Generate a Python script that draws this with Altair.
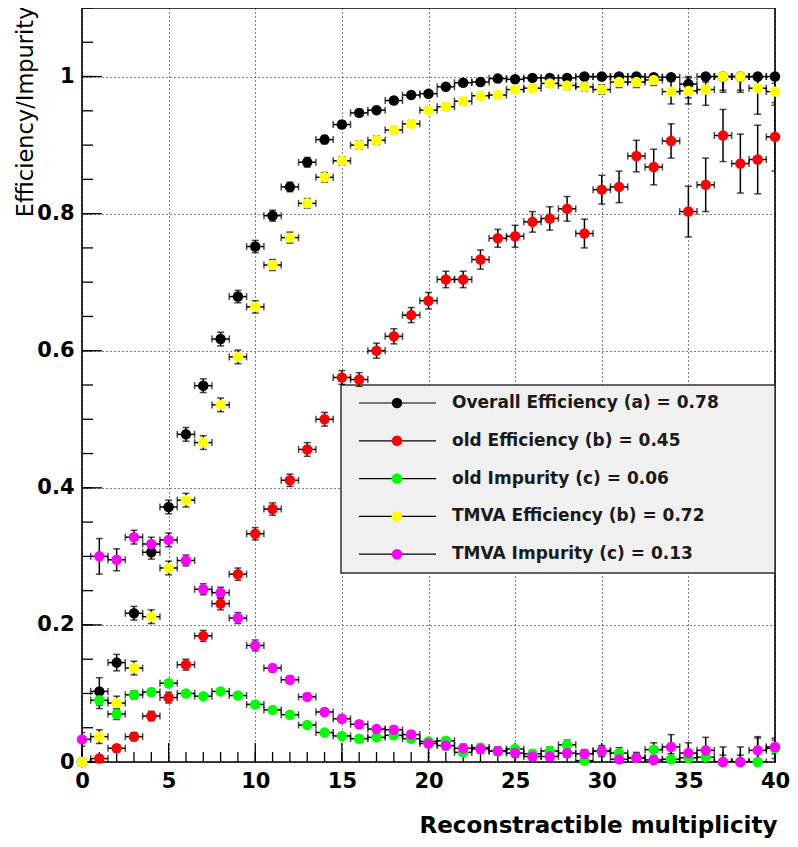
import altair as alt
import pandas as pd

# ---------------- data ----------------
x_vals = list(range(41))

series_names = [
    "Overall Efficiency (a) = 0.78",
    "old Efficiency (b) = 0.45",
    "old Impurity (c) = 0.06",
    "TMVA Efficiency (b) = 0.72",
    "TMVA Impurity (c) = 0.13",
]
series_colors = ["#000000", "#ff0000", "#00ff00", "#ffff00", "#ff00ff"]

overall_eff = [0, 0.103, 0.145, 0.217, 0.306, 0.372, 0.478, 0.549, 0.617, 0.679,
               0.752, 0.797, 0.839, 0.875, 0.908, 0.930, 0.947, 0.951, 0.965, 0.973,
               0.975, 0.985, 0.991, 0.992, 0.997, 0.996, 0.998, 0.998, 0.998, 1.0,
               1.0, 1.0, 1.0, 0.999, 0.999, 0.989, 1.0, 1.0, 1.0, 1.0, 1.0]
overall_err = [0, 0.02, 0.012, 0.01, 0.01, 0.01, 0.01, 0.01, 0.01, 0.009,
               0.009, 0.008, 0.007, 0.007, 0.006, 0.005, 0.005, 0.005, 0.004, 0.004,
               0.004, 0.004, 0.004, 0.003, 0.003, 0.003, 0.003, 0.003, 0.003, 0.003,
               0.003, 0.004, 0.004, 0.005, 0.006, 0.02, 0.008, 0.02, 0.02, 0.02, 0.01]

old_eff = [0, 0.005, 0.020, 0.037, 0.067, 0.094, 0.142, 0.184, 0.231, 0.274,
           0.333, 0.369, 0.411, 0.456, 0.500, 0.561, 0.558, 0.600, 0.621, 0.652,
           0.673, 0.704, 0.704, 0.733, 0.764, 0.767, 0.788, 0.793, 0.807, 0.771,
           0.835, 0.839, 0.884, 0.868, 0.906, 0.803, 0.842, 0.914, 0.873, 0.879, 0.912]
old_eff_err = [0, 0.003, 0.005, 0.006, 0.007, 0.008, 0.008, 0.008, 0.009, 0.009,
               0.009, 0.009, 0.009, 0.01, 0.01, 0.01, 0.01, 0.011, 0.011, 0.011,
               0.012, 0.012, 0.012, 0.014, 0.013, 0.016, 0.015, 0.017, 0.018, 0.021,
               0.021, 0.023, 0.023, 0.026, 0.025, 0.037, 0.039, 0.038, 0.043, 0.05, 0.05]

old_imp = [0, 0.090, 0.070, 0.098, 0.102, 0.115, 0.100, 0.096, 0.103, 0.097,
           0.084, 0.076, 0.069, 0.054, 0.043, 0.038, 0.034, 0.036, 0.039, 0.034,
           0.030, 0.031, 0.014, 0.021, 0.016, 0.019, 0.012, 0.016, 0.025, 0.002,
           0.016, 0.013, 0.006, 0.018, 0.004, 0.006, 0.007, 0.0, 0.0, 0.0, 0.02]
old_imp_err = [0, 0.012, 0.008, 0.006, 0.005, 0.005, 0.004, 0.004, 0.004, 0.004,
               0.004, 0.004, 0.004, 0.004, 0.004, 0.004, 0.004, 0.004, 0.004, 0.004,
               0.004, 0.004, 0.004, 0.005, 0.005, 0.005, 0.005, 0.006, 0.007, 0.006,
               0.008, 0.008, 0.008, 0.01, 0.008, 0.01, 0.01, 0.01, 0.01, 0.035, 0.015]

tmva_eff = [0, 0.037, 0.086, 0.137, 0.212, 0.283, 0.382, 0.466, 0.521, 0.591,
            0.664, 0.725, 0.765, 0.815, 0.853, 0.877, 0.900, 0.907, 0.922, 0.931,
            0.951, 0.956, 0.964, 0.972, 0.973, 0.981, 0.983, 0.990, 0.987, 0.985,
            0.981, 0.992, 0.992, 0.995, 0.978, 0.979, 0.981, 1.0, 1.0, 0.983, 0.978]
tmva_eff_err = [0, 0.01, 0.01, 0.01, 0.01, 0.01, 0.01, 0.01, 0.01, 0.01,
                0.009, 0.008, 0.008, 0.007, 0.007, 0.006, 0.006, 0.006, 0.005, 0.005,
                0.005, 0.005, 0.005, 0.004, 0.004, 0.004, 0.005, 0.005, 0.006, 0.006,
                0.007, 0.008, 0.008, 0.008, 0.018, 0.019, 0.023, 0.023, 0.023, 0.038, 0.02]

tmva_imp = [0.033, 0.300, 0.295, 0.328, 0.318, 0.324, 0.294, 0.252, 0.247, 0.210,
            0.170, 0.137, 0.120, 0.095, 0.073, 0.063, 0.055, 0.048, 0.047, 0.040,
            0.027, 0.024, 0.020, 0.019, 0.016, 0.013, 0.008, 0.008, 0.013, 0.012,
            0.016, 0.004, 0.006, 0.003, 0.022, 0.013, 0.017, 0.0, 0.0, 0.017, 0.022]
tmva_imp_err = [0.01, 0.026, 0.016, 0.01, 0.01, 0.01, 0.008, 0.008, 0.008, 0.008,
                0.008, 0.005, 0.005, 0.005, 0.005, 0.005, 0.005, 0.005, 0.005, 0.005,
                0.005, 0.006, 0.006, 0.006, 0.006, 0.006, 0.006, 0.006, 0.006, 0.006,
                0.006, 0.006, 0.006, 0.006, 0.018, 0.015, 0.019, 0.022, 0.022, 0.02, 0.01]

all_values = [overall_eff, old_eff, old_imp, tmva_eff, tmva_imp]
all_errors = [overall_err, old_eff_err, old_imp_err, tmva_eff_err, tmva_imp_err]

x_major_ticks = [0, 5, 10, 15, 20, 25, 30, 35, 40]
x_minor_ticks = list(range(41))
y_major_ticks = [0, 0.2, 0.4, 0.6, 0.8, 1.0]
y_minor_ticks = [round(0.05 * k, 2) for k in range(23)]

x_title = "Reconstractible multiplicity"
y_title = "Efficiency/Impurity"

# ---------------- table ----------------
rows = []
for s, (vals, errs) in enumerate(zip(all_values, all_errors)):
    for xv, v, e in zip(x_vals, vals, errs):
        rows.append({
            "x": xv, "v": v, "series": series_names[s], "color": series_colors[s],
            "lo": max(v - e, 0.0), "hi": min(v + e, 1.0),
            "xl": xv - 0.5, "xh": xv + 0.5,
        })
df = pd.DataFrame(rows)

W, H = 693, 754
FONT = "DejaVu Sans"
XSCALE = alt.Scale(domain=[0, 40], nice=False, zero=False)
YSCALE = alt.Scale(domain=[0, 1.1], nice=False, zero=False)

X_AXIS = alt.Axis(values=x_major_ticks, title=x_title, format="d",
                  labelFont=FONT, labelFontSize=21, labelFontWeight="bold",
                  labelColor="#000", labelPadding=8, labelFlush=False,
                  ticks=False, domain=False,
                  grid=True, gridColor="#000", gridDash=[1, 3], gridWidth=1,
                  titleFont=FONT, titleFontSize=23, titleFontWeight="bold",
                  titleColor="#000", titleAnchor="end", titleAlign="right",
                  titleX=W + 2, titleY=70, titleBaseline="alphabetic")
Y_AXIS = alt.Axis(values=y_major_ticks, title=y_title, format="~g",
                  labelFont=FONT, labelFontSize=21, labelFontWeight="bold",
                  labelColor="#000", labelPadding=8,
                  ticks=False, domain=False,
                  grid=True, gridColor="#000", gridDash=[1, 3], gridWidth=1,
                  titleFont=FONT, titleFontSize=22.5, titleFontWeight="normal",
                  titleColor="#000", titleAngle=270, titleAlign="right",
                  titleAnchor="end", titleX=-57, titleY=-2,
                  titleBaseline="middle")


def xs(field):
    return alt.X(field, type="quantitative", scale=XSCALE, axis=X_AXIS, title=x_title)


def ys(field):
    return alt.Y(field, type="quantitative", scale=YSCALE, axis=Y_AXIS, title=y_title)


# inward ticks
xmin_df = pd.DataFrame({"t": x_minor_ticks})
xmaj_df = pd.DataFrame({"t": x_major_ticks})
ymin_df = pd.DataFrame({"t": y_minor_ticks})
ymaj_df = pd.DataFrame({"t": y_major_ticks})

tick_layers = [
    alt.Chart(xmin_df).mark_rule(color="#000", strokeWidth=1.3).encode(
        x=xs("t"), y=alt.value(H), y2=alt.value(H - 10)),
    alt.Chart(xmaj_df).mark_rule(color="#000", strokeWidth=1.3).encode(
        x=xs("t"), y=alt.value(H), y2=alt.value(H - 19)),
    alt.Chart(ymin_df).mark_rule(color="#000", strokeWidth=1.3).encode(
        y=ys("t"), x=alt.value(0), x2=alt.value(11)),
    alt.Chart(ymaj_df).mark_rule(color="#000", strokeWidth=1.3).encode(
        y=ys("t"), x=alt.value(0), x2=alt.value(20)),
]

# legend box
box_df = pd.DataFrame({"k": [0]})
legend_box = alt.Chart(box_df).mark_rect(
    fill="#f0f0f0", stroke="#333", strokeWidth=1.5).encode(
    x=alt.value(259), x2=alt.value(W), y=alt.value(377), y2=alt.value(565))

# error bars
err_v = alt.Chart(df).mark_rule(color="#000", strokeWidth=1.5, clip=True).encode(
    x=xs("x"), y=ys("lo"), y2=alt.Y2("hi"))
err_h = alt.Chart(df).mark_rule(color="#000", strokeWidth=1.5, clip=True).encode(
    x=xs("xl"), x2=alt.X2("xh"), y=ys("v"))
cap_lo = alt.Chart(df).mark_tick(color="#000", orient="horizontal", size=7, thickness=1.5, clip=True).encode(
    x=xs("x"), y=ys("lo"))
cap_hi = alt.Chart(df).mark_tick(color="#000", orient="horizontal", size=7, thickness=1.5, clip=True).encode(
    x=xs("x"), y=ys("hi"))
cap_l = alt.Chart(df).mark_tick(color="#000", orient="vertical", size=7, thickness=1.5, clip=True).encode(
    x=xs("xl"), y=ys("v"))
cap_r = alt.Chart(df).mark_tick(color="#000", orient="vertical", size=7, thickness=1.5, clip=True).encode(
    x=xs("xh"), y=ys("v"))

points = alt.Chart(df).mark_circle(size=110, opacity=1).encode(
    x=xs("x"), y=ys("v"), color=alt.Color("color:N", scale=None, legend=None))

# legend rows
leg_layers = []
for i, (name, col) in enumerate(zip(series_names, series_colors)):
    ly = 395 + 37.8 * i
    row_df = pd.DataFrame({"label": [name], "color": [col]})
    leg_layers.append(alt.Chart(row_df).mark_rule(color="#000", strokeWidth=1.2).encode(
        x=alt.value(277), x2=alt.value(354), y=alt.value(ly)))
    leg_layers.append(alt.Chart(row_df).mark_circle(size=110, opacity=1).encode(
        x=alt.value(315), y=alt.value(ly), color=alt.Color("color:N", scale=None, legend=None)))
    leg_layers.append(alt.Chart(row_df).mark_text(
        align="left", baseline="middle", font=FONT, fontSize=17, fontWeight="bold", color="#1a1a1a").encode(
        x=alt.value(370), y=alt.value(ly), text="label:N"))

chart = alt.layer(
    *tick_layers, legend_box,
    err_v, err_h, cap_lo, cap_hi, cap_l, cap_r, points, *leg_layers
).properties(
    width=W, height=H,
    autosize=alt.AutoSizeParams(type="none"),
    padding={"left": 74, "top": 0, "right": 15, "bottom": 77},
    background="white",
).configure_view(
    stroke="#000", strokeWidth=1.6
)

chart.save("out.html", embed_options={"renderer": "svg", "actions": False})
